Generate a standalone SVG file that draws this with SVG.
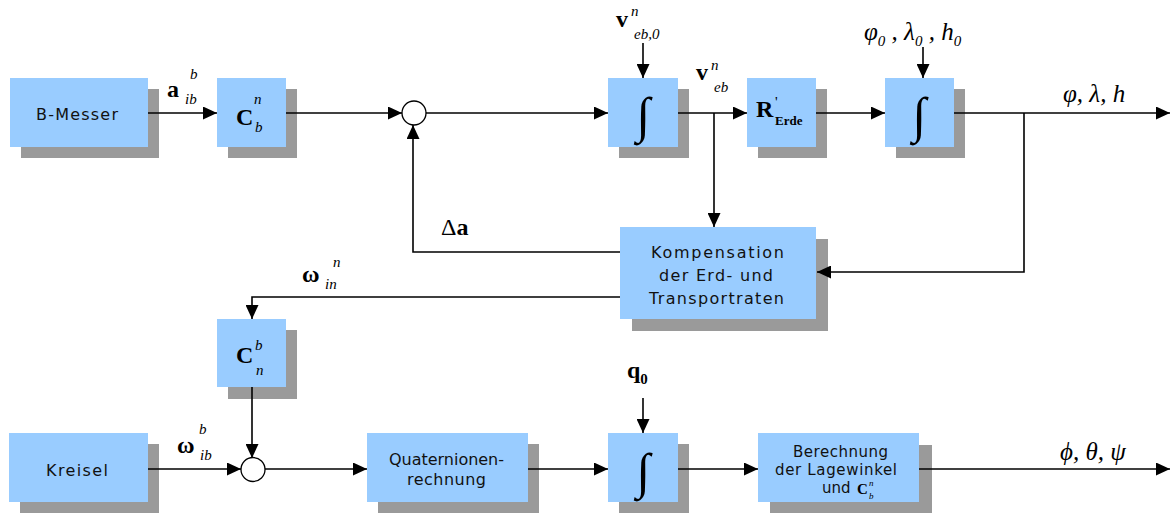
<svg xmlns="http://www.w3.org/2000/svg" width="1170" height="513" viewBox="0 0 1170 513">
<defs>
<marker id="ah" markerUnits="userSpaceOnUse" markerWidth="15" markerHeight="13" refX="14" refY="6.5" orient="auto">
<path d="M0,0 L14,6.5 L0,13 z" fill="#000"/>
</marker>
</defs>
<style>
.box{fill:#99ccff}
.sh{fill:#9a9a9a}
.t{font-family:"DejaVu Sans","Liberation Sans",sans-serif;font-size:16px;fill:#111}
.ts{font-family:"DejaVu Sans","Liberation Sans",sans-serif;font-size:15px;fill:#111}
.mb{font-family:"Liberation Serif","Times New Roman",serif;font-weight:bold;font-size:24px;fill:#000}
.mi{font-family:"Liberation Serif","Times New Roman",serif;font-style:italic;font-size:15px;fill:#000}
.mr{font-family:"Liberation Serif","Times New Roman",serif;font-size:15px;fill:#000}
.mg{font-family:"Liberation Serif","Times New Roman",serif;font-style:italic;font-size:25px;fill:#000}
.int{font-family:"Liberation Serif","Times New Roman",serif;font-size:50px;fill:#000}
.c{fill:none;stroke:#000;stroke-width:1.6}
.a{marker-end:url(#ah)}
.sum{fill:#fff;stroke:#000;stroke-width:1.3}
</style>
<rect width="1170" height="513" fill="#fff"/>

<g id="b-messer">
<rect class="sh" x="21" y="89" width="138" height="69"/>
<rect class="box" x="10" y="78" width="138" height="69"/>
<text class="t" x="36" y="120" textLength="82">B-Messer</text>
</g>

<g id="c-b-n">
<rect class="sh" x="228" y="89" width="69" height="69"/>
<rect class="box" x="217" y="78" width="69" height="69"/>
<text class="mb" x="236" y="125">C</text>
<text class="mi" x="254" y="104">n</text>
<text class="mi" x="255" y="132">b</text>
</g>

<g id="sum1">
<circle class="sum" cx="414" cy="113" r="12"/>
</g>

<g id="integrator1">
<rect class="sh" x="619" y="89" width="70" height="69"/>
<rect class="box" x="608" y="78" width="70" height="69"/>
<text class="int" x="643" y="132" text-anchor="middle">∫</text>
</g>

<g id="r-erde">
<rect class="sh" x="758" y="89" width="69" height="69"/>
<rect class="box" x="747" y="78" width="69" height="69"/>
<text class="mb" x="756" y="117">R</text>
<text class="mr" x="775" y="107">'</text>
<text x="775" y="125" style="font-family:'Liberation Serif',serif;font-weight:bold;font-size:13px">Erde</text>
</g>

<g id="integrator2">
<rect class="sh" x="896" y="89" width="69" height="69"/>
<rect class="box" x="885" y="78" width="69" height="69"/>
<text class="int" x="919" y="132" text-anchor="middle">∫</text>
</g>

<g id="kompensation">
<rect class="sh" x="632" y="239" width="196" height="92"/>
<rect class="box" x="620" y="227" width="196" height="92"/>
<text class="t" x="651" y="258" textLength="133">Kompensation</text>
<text class="t" x="659" y="281" textLength="114">der Erd- und</text>
<text class="t" x="649" y="304" textLength="135">Transportraten</text>
</g>

<g id="c-n-b">
<rect class="sh" x="228" y="330" width="69" height="69"/>
<rect class="box" x="217" y="319" width="69" height="68"/>
<text class="mb" x="236" y="363">C</text>
<text class="mi" x="255" y="350">b</text>
<text class="mi" x="256" y="375">n</text>
</g>

<g id="kreisel">
<rect class="sh" x="20" y="444" width="139" height="69"/>
<rect class="box" x="9" y="433" width="139" height="69"/>
<text class="t" x="46" y="476" textLength="62">Kreisel</text>
</g>

<g id="sum2">
<circle class="sum" cx="253" cy="469.5" r="12"/>
</g>

<g id="quaternionen">
<rect class="sh" x="378" y="444" width="161" height="69"/>
<rect class="box" x="367" y="433" width="161" height="69"/>
<text class="t" x="389" y="465" textLength="115">Quaternionen-</text>
<text class="t" x="407" y="485" textLength="79">rechnung</text>
</g>

<g id="integrator3">
<rect class="sh" x="619" y="444" width="70" height="69"/>
<rect class="box" x="608" y="433" width="70" height="69"/>
<text class="int" x="643" y="488" text-anchor="middle">∫</text>
</g>

<g id="berechnung">
<rect class="sh" x="770" y="445" width="162" height="68"/>
<rect class="box" x="758" y="433" width="161" height="69"/>
<text class="ts" x="793" y="457" textLength="95">Berechnung</text>
<text class="ts" x="775" y="475" textLength="122">der Lagewinkel</text>
<text class="ts" x="822" y="493">und</text>
<text x="857" y="494" style="font-family:'Liberation Serif',serif;font-weight:bold;font-size:15px">C</text>
<text class="mi" x="869" y="486" style="font-size:9px">n</text>
<text class="mi" x="869" y="499" style="font-size:9px">b</text>
</g>

<g id="connectors">
<path class="c a" d="M148,113 H217"/>
<path class="c a" d="M286,113 H402"/>
<path class="c a" d="M426,113 H608"/>
<path class="c a" d="M643,43 V78"/>
<path class="c a" d="M678,113 H747"/>
<path class="c a" d="M714,113 V227"/>
<path class="c a" d="M816,113 H885"/>
<path class="c a" d="M923,47 V78"/>
<path class="c a" d="M954,113 H1170"/>
<path class="c a" d="M1024,113 V272 H817"/>
<path class="c a" d="M620,252 H413 V125"/>
<path class="c a" d="M620,297 H252 V319"/>
<path class="c a" d="M252,387 V458"/>
<path class="c a" d="M148,469 H241"/>
<path class="c a" d="M265,469 H367"/>
<path class="c a" d="M643,398 V433"/>
<path class="c a" d="M528,469 H608"/>
<path class="c a" d="M678,469 H758"/>
<path class="c a" d="M919,469 H1170"/>
</g>

<g id="labels">
<text class="mb" x="167" y="97">a</text>
<text class="mi" x="190" y="79">b</text>
<text class="mi" x="185" y="104">ib</text>

<text class="mb" x="616" y="27">v</text>
<text class="mi" x="631" y="16">n</text>
<text class="mi" x="634" y="39">eb,0</text>

<text class="mb" x="696" y="80">v</text>
<text class="mi" x="711" y="70">n</text>
<text class="mi" x="714" y="92">eb</text>

<text class="mg" x="864" y="40">φ<tspan class="mr" dy="6">0</tspan><tspan dy="-6"> , λ</tspan><tspan class="mr" dy="6">0</tspan><tspan dy="-6"> , h</tspan><tspan class="mr" dy="6">0</tspan></text>

<text class="mg" x="1063" y="102">φ, λ, h</text>

<text x="441" y="235" style="font-family:'Liberation Serif',serif;font-size:24px">Δ<tspan font-weight="bold">a</tspan></text>

<text class="mb" x="302" y="282">ω</text>
<text class="mi" x="333" y="267">n</text>
<text class="mi" x="325" y="289">in</text>

<text class="mb" x="177" y="453">ω</text>
<text class="mi" x="199" y="434">b</text>
<text class="mi" x="200" y="460">ib</text>

<text class="mb" x="627" y="378">q<tspan class="mr" dy="6">0</tspan></text>

<text class="mg" x="1060" y="460">ϕ, θ, ψ</text>
</g>
</svg>
